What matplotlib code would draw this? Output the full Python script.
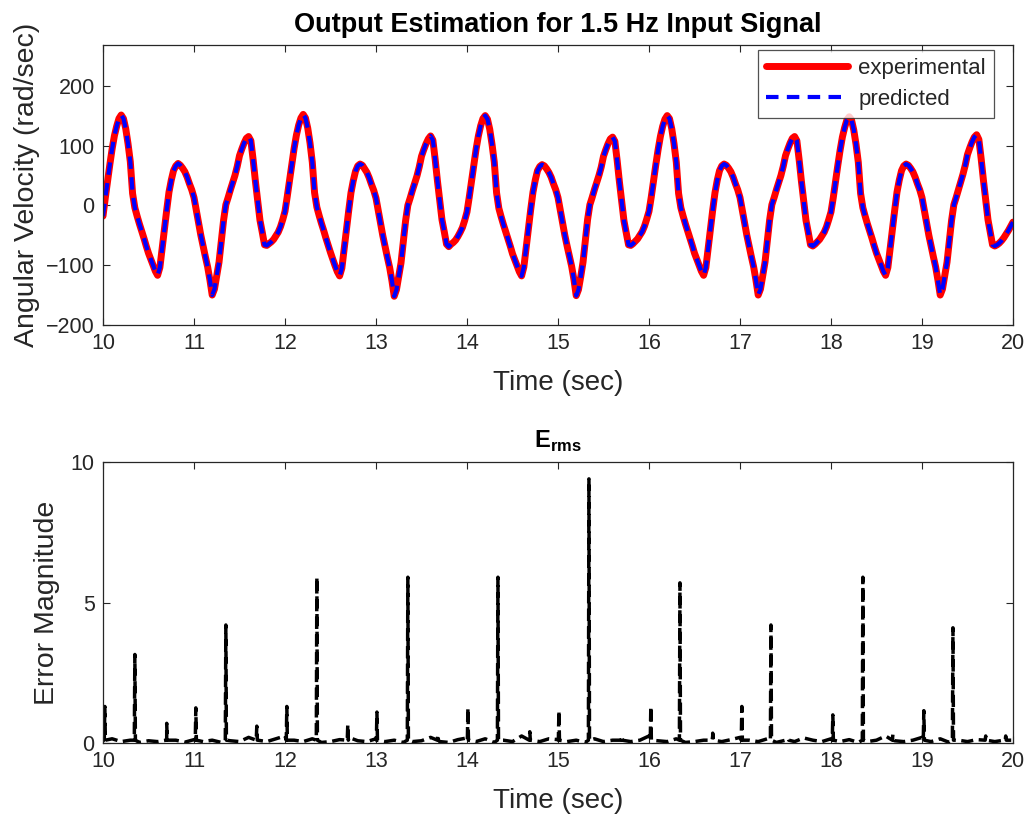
import numpy as np
import matplotlib
matplotlib.use("Agg")
import matplotlib.pyplot as plt

plt.rcParams['font.family'] = ['Liberation Sans', 'DejaVu Sans']
plt.rcParams['mathtext.fontset'] = 'custom'
plt.rcParams['mathtext.rm'] = 'Liberation Sans'
plt.rcParams['mathtext.bf'] = 'Liberation Sans:bold'

# ---------------- data ----------------
experimental = [
    # 10.000 - 11.975 (0.025 s steps)
    -18, 12, 40, 68, 94, 116, 132, 145, 151, 145,
    128, 103, 73, 20, -4, -18, -31, -43, -55, -68,
    -80, -90, -100, -110, -117, -104, -72, -40, -8, 22,
    42, 58, 66, 70, 67, 62, 56, 47, 36, 26,
    13, -8, -29, -50, -68, -86, -103, -125, -150, -140,
    -118, -95, -60, -25, 1, 13, 26, 38, 50, 65,
    83, 94, 104, 112, 115, 108, 76, 40, 8, -25,
    -45, -66, -67, -64, -61, -57, -51, -45, -36, -24,
    # 12.000 - 13.975
    -10, 15, 42, 70, 95, 117, 134, 146, 152, 146,
    129, 104, 72, 21, -3, -17, -30, -42, -55, -67,
    -79, -90, -101, -111, -118, -105, -73, -41, -9, 21,
    41, 57, 66, 69, 67, 61, 55, 46, 35, 25,
    12, -9, -30, -51, -69, -87, -104, -126, -152, -141,
    -119, -96, -61, -26, 0, 12, 25, 37, 49, 64,
    82, 93, 103, 111, 116, 109, 77, 41, 9, -24,
    -44, -65, -69, -65, -62, -58, -52, -45, -37, -25,
    # 14.000 - 15.975
    -11, 14, 41, 69, 94, 116, 133, 145, 150, 144,
    127, 102, 72, 21, -5, -19, -32, -44, -56, -68,
    -81, -91, -101, -111, -118, -103, -71, -39, -7, 22,
    42, 58, 65, 68, 66, 61, 55, 47, 36, 26,
    13, -8, -29, -50, -68, -85, -102, -124, -151, -141,
    -119, -95, -60, -24, 1, 13, 26, 38, 50, 64,
    82, 93, 103, 111, 114, 107, 75, 39, 7, -26,
    -46, -66, -67, -64, -60, -56, -50, -44, -35, -23,
    # 16.000 - 17.975
    -10, 14, 41, 68, 93, 115, 132, 144, 150, 145,
    128, 103, 72, 20, -4, -18, -31, -43, -55, -67,
    -80, -90, -100, -110, -117, -104, -72, -40, -8, 21,
    42, 58, 66, 69, 67, 62, 56, 47, 36, 26,
    13, -8, -29, -50, -68, -86, -103, -125, -150, -140,
    -118, -95, -60, -25, 1, 13, 26, 38, 50, 65,
    83, 94, 104, 112, 115, 108, 76, 40, 8, -25,
    -45, -66, -68, -65, -61, -57, -51, -45, -36, -24,
    # 18.000 - 19.975
    -11, 13, 40, 67, 92, 114, 130, 143, 148, 143,
    126, 102, 72, 20, -4, -18, -31, -43, -55, -68,
    -80, -90, -100, -110, -117, -104, -72, -40, -8, 22,
    42, 58, 66, 69, 67, 62, 56, 47, 36, 26,
    13, -8, -29, -50, -68, -86, -103, -125, -150, -140,
    -118, -95, -60, -25, 1, 13, 26, 39, 52, 67,
    85, 96, 106, 114, 118, 110, 78, 42, 9, -24,
    -45, -66, -68, -66, -63, -59, -54, -48, -42, -35,
    # 20.000
    -28,
]
predicted = list(experimental)
time = np.linspace(10.0, 20.0, len(experimental))

# error magnitude: low baseline (0.1 s sampling) plus narrow spikes
base_time = np.linspace(10.0, 20.0, 101)
base_err = [
    0.20, 0.15, 0.05, 0.10, 0.02, 0.08, 0.05, 0.18, 0.10, 0.03,
    0.12, 0.05, 0.10, 0.02, 0.08, 0.05, 0.20, 0.10, 0.05, 0.15,
    0.25, 0.10, 0.05, 0.15, 0.02, 0.05, 0.12, 0.20, 0.08, 0.05,
    0.15, 0.05, 0.10, 0.02, 0.05, 0.08, 0.20, 0.05, 0.02, 0.12,
    0.18, 0.05, 0.15, 0.02, 0.10, 0.05, 0.25, 0.10, 0.05, 0.15,
    0.12, 0.05, 0.10, 0.02, 0.15, 0.05, 0.10, 0.20, 0.05, 0.10,
    0.25, 0.08, 0.05, 0.15, 0.02, 0.05, 0.10, 0.25, 0.05, 0.12,
    0.20, 0.10, 0.05, 0.15, 0.02, 0.10, 0.05, 0.18, 0.10, 0.05,
    0.15, 0.05, 0.12, 0.02, 0.05, 0.10, 0.25, 0.08, 0.05, 0.10,
    0.20, 0.05, 0.15, 0.02, 0.10, 0.05, 0.12, 0.25, 0.05, 0.10,
    0.10,
]
spike_time = [10.02, 10.35, 10.70, 11.02, 11.35, 11.69, 12.02, 12.35, 12.69, 13.01,
              13.35, 13.68, 14.01, 14.34, 14.69, 15.01, 15.34, 15.70, 16.02, 16.34,
              16.70, 17.02, 17.34, 17.53, 18.02, 18.35, 18.68, 19.02, 19.34, 19.70, 19.92]
spike_height = [1.3, 3.15, 0.7, 1.25, 4.2, 0.6, 1.3, 5.9, 0.65, 1.1,
                5.9, 0.3, 1.25, 5.9, 0.4, 1.15, 9.4, 0.25, 1.3, 5.7,
                0.35, 1.3, 4.2, 0.15, 1.0, 5.9, 0.3, 1.15, 4.1, 0.25, 0.25]
spike_foot = 0.1
spike_half_width = 0.006

# ---------------- build error polyline ----------------
et = list(base_time)
ev = list(base_err)
for t, h in zip(spike_time, spike_height):
    et += [t - spike_half_width, t, t + spike_half_width]
    ev += [spike_foot, h, spike_foot]
order = np.argsort(et, kind='stable')
err_t = np.asarray(et)[order]
err_v = np.asarray(ev)[order]

# ---------------- figure ----------------
TXT = '#262626'
fig = plt.figure(figsize=(10.30, 8.24), dpi=100)
ax1 = fig.add_axes([0.1, 0.6056, 0.8835, 0.3398])
ax2 = fig.add_axes([0.1, 0.0983, 0.8835, 0.341])

ax1.plot(time, experimental, color='#ff0000', lw=5.0, solid_capstyle='round',
         solid_joinstyle='round', label='experimental')
ax1.plot(time, predicted, color='#0000ff', lw=3.0, linestyle=(0, (3.0, 2.0)),
         label='predicted')
ax1.set_xlim(10, 20)
ax1.set_ylim(-200, 268)
ax1.set_xticks(np.arange(10, 21, 1))
ax1.set_yticks([-200, -100, 0, 100, 200])
ax1.set_title('Output Estimation for 1.5 Hz Input Signal', fontsize=19.5,
              fontweight='bold', color='black', pad=9)
ax1.set_xlabel('Time (sec)', fontsize=20, color=TXT, labelpad=11)
ax1.set_ylabel('Angular Velocity (rad/sec)', fontsize=20.5, color=TXT, labelpad=4)
leg = ax1.legend(loc='upper right', bbox_to_anchor=(0.979, 0.982), fontsize=16,
                 handlelength=3.7, frameon=True, fancybox=False, borderpad=0.35,
                 labelspacing=0.45, handletextpad=0.45, borderaxespad=0.0)
leg.get_frame().set_edgecolor(TXT)
leg.get_frame().set_linewidth(0.9)
for txt in leg.get_texts():
    txt.set_color(TXT)

ax2.plot(err_t, err_v, color='black', lw=2.5, linestyle=(0, (3.5, 1.6)))
ax2.set_xlim(10, 20)
ax2.set_ylim(0, 10)
ax2.set_xticks(np.arange(10, 21, 1))
ax2.set_yticks([0, 5, 10])
ax2.set_title(r'$\mathbf{E}_{\mathbf{rms}}$', fontsize=17, color='black', pad=10)
ax2.set_xlabel('Time (sec)', fontsize=20, color=TXT, labelpad=11)
ax2.set_ylabel('Error Magnitude', fontsize=20.5, color=TXT, labelpad=8)

for ax in (ax1, ax2):
    ax.tick_params(direction='in', top=True, right=True, length=5, width=0.8,
                   colors=TXT, labelsize=15.5, pad=6)
    for sp in ax.spines.values():
        sp.set_color(TXT)
        sp.set_linewidth(0.9)

fig.savefig('out.png', dpi=100, facecolor='white')
